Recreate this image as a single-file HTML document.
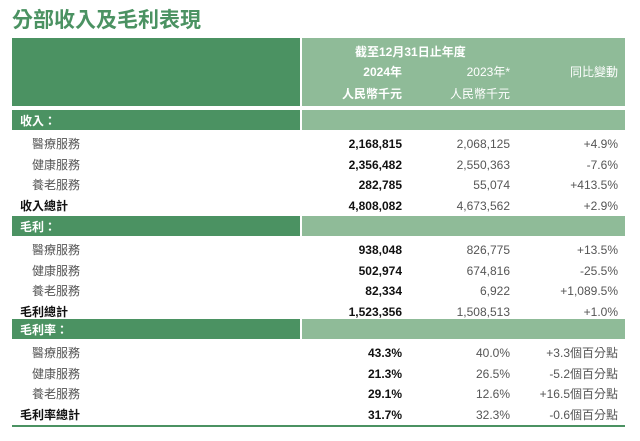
<!DOCTYPE html>
<html><head><meta charset="utf-8"><style>
body{margin:0;width:640px;height:441px;background:#fff;position:relative;overflow:hidden;font-family:"Liberation Sans","Noto Sans CJK TC",sans-serif;}
.a{position:absolute;}
.dk{background:#4b9262;}
.lt{background:#8fbb98;}
.t{position:absolute;font-size:12px;color:#222;white-space:nowrap;line-height:14px;}
.r{text-align:right;}
.b{font-weight:bold;color:#111;}
.g{color:#555;}
.w{color:#fff;}
</style></head><body>
<div class="a" style="left:12px;top:8px;font-size:21px;font-weight:bold;color:#4b9262;line-height:26px;">分部收入及毛利表現</div>
<div class="a dk" style="left:12px;top:38px;width:288px;height:68px"></div>
<div class="a lt" style="left:302px;top:38px;width:323px;height:68px"></div>
<div class="t b w" style="left:355px;top:45px;width:110px;text-align:center">截至12月31日止年度</div>
<div class="t b w r" style="left:302px;top:65px;width:100px">2024年</div>
<div class="t w r" style="left:410px;top:65px;width:100px">2023年*</div>
<div class="t w r" style="left:518px;top:65px;width:100px">同比變動</div>
<div class="t b w r" style="left:302px;top:87px;width:100px">人民幣千元</div>
<div class="t w r" style="left:410px;top:87px;width:100px">人民幣千元</div>
<div id="rows"></div>
<div class="a" style="left:12px;top:425px;width:613px;height:2px;background:#4b9262"></div>
<script>
const sections=["收入：","毛利：","毛利率："];
const sectionTops=[110,216,319];
const labels=[["醫療服務","健康服務","養老服務","收入總計"],["醫療服務","健康服務","養老服務","毛利總計"],["醫療服務","健康服務","養老服務","毛利率總計"]];
const v2024=[["2,168,815","2,356,482","282,785","4,808,082"],["938,048","502,974","82,334","1,523,356"],["43.3%","21.3%","29.1%","31.7%"]];
const v2023=[["2,068,125","2,550,363","55,074","4,673,562"],["826,775","674,816","6,922","1,508,513"],["40.0%","26.5%","12.6%","32.3%"]];
const yoy=[["+4.9%","-7.6%","+413.5%","+2.9%"],["+13.5%","-25.5%","+1,089.5%","+1.0%"],["+3.3個百分點","-5.2個百分點","+16.5個百分點","-0.6個百分點"]];
const root=document.getElementById('rows');
function mk(cls,txt,st){const d=document.createElement('div');d.className=cls;d.textContent=txt;d.style.cssText=st;root.appendChild(d);return d;}
sections.forEach((s,i)=>{
 const top=sectionTops[i];
 const l=mk('a dk','', `left:12px;top:${top}px;width:288px;height:20px`);
 
 
 const r=mk('a lt','', `left:302px;top:${top}px;width:323px;height:20px`);
 
 
 const t=mk('t b w',s,`left:20px;top:${top+4}px`);
 
 
 labels[i].forEach((lab,j)=>{
  const y=top+27+j*20.5;const tot=j==3;
  const a=mk('t '+(tot?'b':'g'),lab,`left:${tot?20:32}px;top:${y}px`);
  
  
  const b=mk('t b r',v2024[i][j],`left:302px;top:${y}px;width:100px`);
  
  
  const c=mk('t g r',v2023[i][j],`left:410px;top:${y}px;width:100px`);
  
  
  const d=mk('t g r',yoy[i][j],`left:498px;top:${y}px;width:120px`);
  
  
 });
});
</script>
</body></html>
